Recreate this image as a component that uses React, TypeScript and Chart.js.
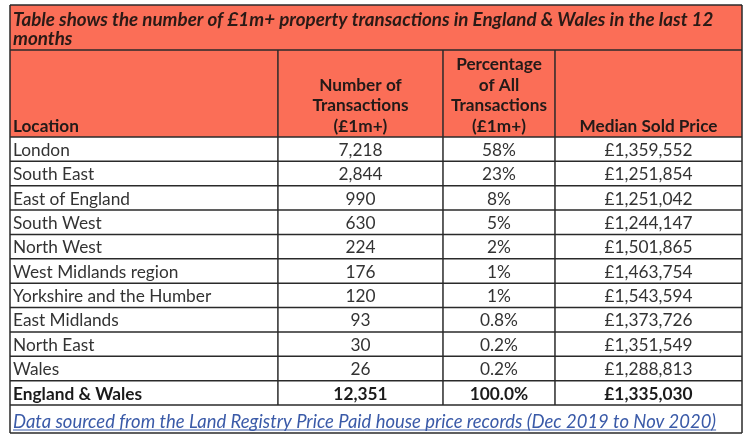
import React, { useEffect, useRef } from "react";
import { Chart, registerables } from "chart.js";

Chart.register(...registerables);

// ---- data ----
const TITLE_LINES = [
  "Table shows the number of £1m+ property transactions in England & Wales in the last 12",
  "months",
];
const COLUMN_HEADERS = [
  ["Location"],
  ["Number of", "Transactions", "(£1m+)"],
  ["Percentage", "of All", "Transactions", "(£1m+)"],
  ["Median Sold Price"],
];
const locations = [
  "London",
  "South East",
  "East of England",
  "South West",
  "North West",
  "West Midlands region",
  "Yorkshire and the Humber",
  "East Midlands",
  "North East",
  "Wales",
  "England & Wales",
];
const transactions = [7218, 2844, 990, 630, 224, 176, 120, 93, 30, 26, 12351];
const sharePercent = [58, 23, 8, 5, 2, 1, 1, 0.8, 0.2, 0.2, 100.0];
const medianPrices = [1359552, 1251854, 1251042, 1244147, 1501865, 1463754, 1543594, 1373726, 1351549, 1288813, 1335030];
const FOOTNOTE = "Data sourced from the Land Registry Price Paid house price records (Dec 2019 to Nov 2020)";

// ---- layout / style ----
const COL_EDGES = [0, 36.6, 59.15, 74.45, 100];
const TITLE_H = 45;
const HEADER_H = 87;
const FOOTER_H = 28;
const SALMON = "#FB6E57";
const LINE = "#2a2a2a";
const FONT = "Lato";
const TITLE_FS = 18.8;
const HEADER_FS = 17.2;
const BODY_FS = 17.3;
const FOOT_FS = 18.45;

const fmtInt = (v: number) => v.toLocaleString("en-GB");
const fmtShare = (v: number, total: boolean) => (total ? v.toFixed(1) : String(v)) + "%";
const fmtPrice = (v: number) => "£" + v.toLocaleString("en-GB");

const tablePlugin = {
  id: "tableDraw",
  beforeDraw(chart: any) {
    const { ctx, width, height } = chart;
    ctx.save();
    ctx.fillStyle = "#ffffff";
    ctx.fillRect(0, 0, width, height);
    ctx.restore();
  },
  afterDraw(chart: any) {
    const { ctx, scales } = chart;
    const x = scales.x;
    const y = scales.y;
    const n = locations.length;
    const step = y.getPixelForValue(1) - y.getPixelForValue(0);
    const rowTop = (i: number) => y.getPixelForValue(i) - step / 2;
    const bodyTop = rowTop(0);
    const bodyBottom = rowTop(n);
    const headerTop = bodyTop - HEADER_H;
    const titleTop = headerTop - TITLE_H;
    const footBottom = bodyBottom + FOOTER_H;
    const cx = COL_EDGES.map((v) => x.getPixelForValue(v));
    const left = cx[0];
    const right = cx[cx.length - 1];

    ctx.save();
    // header background
    ctx.fillStyle = SALMON;
    ctx.fillRect(left, titleTop, right - left, bodyTop - titleTop);

    // lines
    ctx.strokeStyle = LINE;
    ctx.lineWidth = 1.5;
    const hline = (yy: number) => {
      ctx.beginPath();
      ctx.moveTo(left, yy);
      ctx.lineTo(right, yy);
      ctx.stroke();
    };
    const vline = (xx: number, y0: number, y1: number) => {
      ctx.beginPath();
      ctx.moveTo(xx, y0);
      ctx.lineTo(xx, y1);
      ctx.stroke();
    };
    hline(titleTop);
    hline(headerTop);
    for (let i = 0; i <= n; i++) hline(rowTop(i));
    hline(footBottom);
    vline(left, titleTop, footBottom);
    vline(right, titleTop, footBottom);
    for (let c = 1; c < cx.length - 1; c++) vline(cx[c], headerTop, bodyBottom);

    // title
    ctx.fillStyle = "#2b1a16";
    ctx.font = `italic bold ${TITLE_FS}px ${FONT}`;
    ctx.textAlign = "left";
    ctx.textBaseline = "alphabetic";
    TITLE_LINES.forEach((t, i) => ctx.fillText(t, left + 3, titleTop + 20.5 + i * 19.5));

    // column headers (bottom aligned)
    ctx.fillStyle = "#231a18";
    ctx.font = `bold ${HEADER_FS}px ${FONT}`;
    COLUMN_HEADERS.forEach((lines, c) => {
      const m = lines.length;
      lines.forEach((t, k) => {
        const by = bodyTop - 5.5 - (m - 1 - k) * 20.5;
        if (c === 0) {
          ctx.textAlign = "left";
          ctx.fillText(t, cx[0] + 3, by);
        } else {
          ctx.textAlign = "center";
          ctx.fillText(t, (cx[c] + cx[c + 1]) / 2, by);
        }
      });
    });

    // body
    for (let i = 0; i < n; i++) {
      const total = i === n - 1;
      const by = rowTop(i + 1) - 5.5;
      ctx.fillStyle = total ? "#1a1a1a" : "#333333";
      ctx.font = `${total ? "bold " : ""}${BODY_FS}px ${FONT}`;
      ctx.textAlign = "left";
      ctx.fillText(locations[i], cx[0] + 3, by);
      ctx.textAlign = "center";
      ctx.fillText(fmtInt(transactions[i]), (cx[1] + cx[2]) / 2, by);
      ctx.fillText(fmtShare(sharePercent[i], total), (cx[2] + cx[3]) / 2, by);
      ctx.fillText(fmtPrice(medianPrices[i]), (cx[3] + cx[4]) / 2, by);
    }

    // footnote (link style)
    ctx.fillStyle = "#3a5aa8";
    ctx.strokeStyle = "#3a5aa8";
    ctx.font = `italic ${FOOT_FS}px ${FONT}`;
    ctx.textAlign = "left";
    const fy = footBottom - 5;
    ctx.fillText(FOOTNOTE, left + 3, fy);
    const w = ctx.measureText(FOOTNOTE).width;
    ctx.lineWidth = 1;
    ctx.beginPath();
    ctx.moveTo(left + 3, fy + 2);
    ctx.lineTo(left + 3 + w, fy + 2);
    ctx.stroke();
    ctx.restore();
  },
};

export default function App() {
  const ref = useRef<HTMLCanvasElement | null>(null);
  useEffect(() => {
    if (!ref.current) return;
    const chart = new Chart(ref.current, {
      type: "bar",
      data: { labels: locations, datasets: [] },
      options: {
        animation: false,
        responsive: false,
        devicePixelRatio: 1,
        indexAxis: "y",
        layout: { padding: { left: 10, right: 8, top: 137, bottom: 32 } },
        plugins: { legend: { display: false }, tooltip: { enabled: false } },
        scales: {
          x: { type: "linear", min: 0, max: 100, display: false },
          y: { type: "category", offset: true, display: false },
        },
      },
      plugins: [tablePlugin],
    } as any);
    return () => chart.destroy();
  }, []);
  return (
    <div style={{ position: "absolute", left: 0, top: 0, width: 750, height: 437, background: "#fff" }}>
      <canvas ref={ref} width={750} height={437} style={{ display: "block" }} />
    </div>
  );
}
